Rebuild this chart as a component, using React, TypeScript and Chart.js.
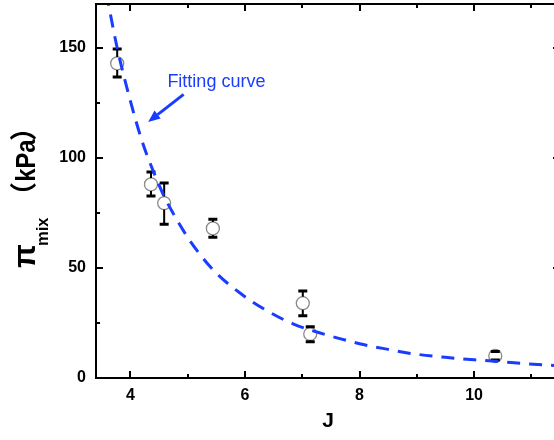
import React, { useEffect, useRef } from 'react';
import { Chart, registerables } from 'chart.js';

Chart.register(...registerables);

// measured points (J, π_mix in kPa) with error bar limits
const pointX = [3.77, 4.36, 4.59, 5.44, 7.01, 7.14, 10.37];
const pointY = [143, 88, 79.5, 68, 34, 20, 10];
const errHigh = [149.5, 93.6, 88.6, 72.2, 39.5, 23.3, 12];
const errLow = [136.8, 82.7, 69.9, 64, 28.3, 16.5, 8.2];

// fitting curve
const fitX = [3.58, 3.77, 4.0, 4.2, 4.4, 4.6, 4.8, 5.05, 5.45, 5.92, 6.39, 6.85, 7.4, 8.0, 8.5, 8.94, 9.5, 10.0, 10.4, 10.7, 11.2, 11.5];
const fitY = [175, 150, 126, 108, 94, 82, 72.5, 62, 49, 38.5, 30.5, 24.5, 19.8, 15.6, 13, 11, 9.4, 8.3, 7.6, 6.9, 6.0, 5.6];

// axes
const xMin = 3.4;
const xMax = 11.5;
const yMin = 0;
const yMax = 170;
const xTickValues = [4, 5, 6, 7, 8, 9, 10, 11];
const xLabelValues = [4, 6, 8, 10];
const yTickValues = [0, 25, 50, 75, 100, 125, 150];
const yLabelValues = [0, 50, 100, 150];

// annotation
const annotationText = 'Fitting curve';
const annotationAt = { x: 4.646, y: 132.3 };
const arrowFrom = { x: 4.93, y: 128.9 };
const arrowTo = { x: 4.31, y: 116.4 };

const xTitle = 'J';
const yTitleMain = 'π';
const yTitleSub = 'mix';
const yTitleOpen = '（';
const yTitleUnit = 'kPa';
const yTitleClose = '）';

const BLUE = '#1a3cff';
const FONT = '"Liberation Sans", Arial, sans-serif';
const CJK = '"Noto Sans CJK SC", "Noto Sans CJK JP", sans-serif';
const POINT_R = 6.5;

const errorBarPlugin = {
  id: 'errorBars',
  afterDatasetDraw(chart: any, args: any) {
    if (args.index !== 1) return;
    const { ctx, scales } = chart;
    const xs = scales.x;
    const ys = scales.y;
    ctx.save();
    ctx.strokeStyle = '#000';
    for (let i = 0; i < pointX.length; i++) {
      const px = xs.getPixelForValue(pointX[i]);
      const py = ys.getPixelForValue(pointY[i]);
      const top = ys.getPixelForValue(errHigh[i]);
      const bot = ys.getPixelForValue(errLow[i]);
      ctx.lineWidth = 2;
      ctx.beginPath();
      if (top < py - POINT_R) {
        ctx.moveTo(px, top);
        ctx.lineTo(px, py - POINT_R);
      }
      if (bot > py + POINT_R) {
        ctx.moveTo(px, py + POINT_R);
        ctx.lineTo(px, bot);
      }
      ctx.stroke();
      ctx.lineWidth = 3;
      ctx.beginPath();
      ctx.moveTo(px - 4.5, top);
      ctx.lineTo(px + 4.5, top);
      ctx.moveTo(px - 4.5, bot);
      ctx.lineTo(px + 4.5, bot);
      ctx.stroke();
    }
    ctx.restore();
  },
};

function drawInk(ctx: any, text: string, u0: number, v: number, font: string, sx = 1) {
  ctx.save();
  ctx.font = font;
  const m = ctx.measureText(text);
  ctx.translate(u0, v);
  ctx.scale(sx, 1);
  ctx.fillText(text, m.actualBoundingBoxLeft, 0);
  ctx.restore();
}

const framePlugin = {
  id: 'frameTicks',
  afterDraw(chart: any) {
    const { ctx, chartArea, scales } = chart;
    const { left, right, top, bottom } = chartArea;
    ctx.save();
    ctx.strokeStyle = '#000';
    ctx.lineWidth = 2;
    ctx.strokeRect(left, top, right - left, bottom - top);
    ctx.beginPath();
    for (const v of xTickValues) {
      const px = Math.round(scales.x.getPixelForValue(v));
      const len = xLabelValues.includes(v) ? 7 : 4;
      ctx.moveTo(px, bottom);
      ctx.lineTo(px, bottom - len);
      ctx.moveTo(px, top);
      ctx.lineTo(px, top + len);
    }
    for (const v of yTickValues) {
      const py = Math.round(scales.y.getPixelForValue(v));
      const len = yLabelValues.includes(v) ? 7 : 4;
      ctx.moveTo(left, py);
      ctx.lineTo(left + len, py);
      ctx.moveTo(right, py);
      ctx.lineTo(right - len, py);
    }
    ctx.stroke();

    // annotation text and arrow
    ctx.fillStyle = BLUE;
    ctx.strokeStyle = BLUE;
    ctx.font = `18px ${FONT}`;
    ctx.textAlign = 'left';
    ctx.textBaseline = 'alphabetic';
    ctx.fillText(annotationText, scales.x.getPixelForValue(annotationAt.x), scales.y.getPixelForValue(annotationAt.y));
    const x1 = scales.x.getPixelForValue(arrowFrom.x);
    const y1 = scales.y.getPixelForValue(arrowFrom.y);
    const x2 = scales.x.getPixelForValue(arrowTo.x);
    const y2 = scales.y.getPixelForValue(arrowTo.y);
    const ang = Math.atan2(y2 - y1, x2 - x1);
    const headLen = 12;
    const headW = 5;
    const bx = x2 - headLen * Math.cos(ang);
    const by = y2 - headLen * Math.sin(ang);
    ctx.lineWidth = 3;
    ctx.beginPath();
    ctx.moveTo(x1, y1);
    ctx.lineTo(bx, by);
    ctx.stroke();
    ctx.beginPath();
    ctx.moveTo(x2, y2);
    ctx.lineTo(bx + headW * Math.sin(ang), by - headW * Math.cos(ang));
    ctx.lineTo(bx - headW * Math.sin(ang), by + headW * Math.cos(ang));
    ctx.closePath();
    ctx.fill();

    // y axis title (rotated; u runs upward from y=270, v runs rightward from x=0)
    ctx.fillStyle = '#000';
    ctx.textAlign = 'left';
    ctx.textBaseline = 'alphabetic';
    ctx.translate(0, 270);
    ctx.rotate(-Math.PI / 2);
    drawInk(ctx, yTitleMain, 2, 35, `bold 31px ${FONT}`);
    drawInk(ctx, yTitleSub, 25, 48, `bold 16.5px ${FONT}`);
    drawInk(ctx, yTitleOpen, 78, 33, `bold 27px ${CJK}`);
    drawInk(ctx, yTitleUnit, 89, 35, `bold 28px ${FONT}`, 0.85);
    drawInk(ctx, yTitleClose, 130, 33, `bold 27px ${CJK}`);
    ctx.restore();
  },
};

export default function App() {
  const ref = useRef<HTMLCanvasElement | null>(null);
  useEffect(() => {
    if (!ref.current) return;
    const chart = new Chart(ref.current, {
      type: 'scatter',
      data: {
        datasets: [
          {
            type: 'line',
            label: 'fit',
            data: fitX.map((x, i) => ({ x, y: fitY[i] })),
            borderColor: BLUE,
            borderWidth: 3,
            borderDash: [13, 9],
            pointRadius: 0,
            tension: 0.4,
            cubicInterpolationMode: 'monotone',
            fill: false,
            order: 0,
          } as any,
          {
            label: 'data',
            data: pointX.map((x, i) => ({ x, y: pointY[i] })),
            pointRadius: POINT_R,
            pointBackgroundColor: '#fff',
            pointBorderColor: '#8a8a8a',
            pointBorderWidth: 1.3,
            order: 1,
          },
        ],
      },
      options: {
        animation: false,
        responsive: false,
        layout: { autoPadding: false, padding: { top: 4, right: 20, bottom: 0, left: 0 } },
        plugins: { legend: { display: false }, tooltip: { enabled: false } },
        scales: {
          x: {
            type: 'linear',
            min: xMin,
            max: xMax,
            afterBuildTicks: (s: any) => {
              s.ticks = xTickValues.map((v) => ({ value: v }));
            },
            afterFit: (s: any) => {
              s.height = 62;
              s.paddingLeft = 0;
              s.paddingRight = 0;
            },
            grid: { display: false, drawTicks: false },
            border: { display: false },
            ticks: {
              padding: 8,
              color: '#000',
              font: { family: FONT, size: 16, weight: 'bold' },
              maxRotation: 0,
              autoSkip: false,
              callback: (v: any) => (xLabelValues.includes(v) ? String(v) : ''),
            },
            title: {
              display: true,
              text: xTitle,
              color: '#000',
              font: { family: FONT, size: 21, weight: 'bold' },
              padding: { top: 0, bottom: 6 },
            },
          },
          y: {
            type: 'linear',
            min: yMin,
            max: yMax,
            afterBuildTicks: (s: any) => {
              s.ticks = yTickValues.map((v) => ({ value: v }));
            },
            afterFit: (s: any) => {
              s.width = 96;
              s.paddingTop = 0;
              s.paddingBottom = 0;
            },
            grid: { display: false, drawTicks: false },
            border: { display: false },
            ticks: {
              padding: 10,
              color: '#000',
              font: { family: FONT, size: 16, weight: 'bold' },
              autoSkip: false,
              callback: (v: any) => (yLabelValues.includes(v) ? String(v) : ''),
            },
          },
        },
      },
      plugins: [errorBarPlugin, framePlugin],
    });
    return () => chart.destroy();
  }, []);
  return (
    <div style={{ position: 'absolute', left: 0, top: 0, width: 554, height: 440, overflow: 'hidden', background: '#fff' }}>
      <canvas ref={ref} width={580} height={440} style={{ display: 'block', width: 580, height: 440 }} />
    </div>
  );
}
